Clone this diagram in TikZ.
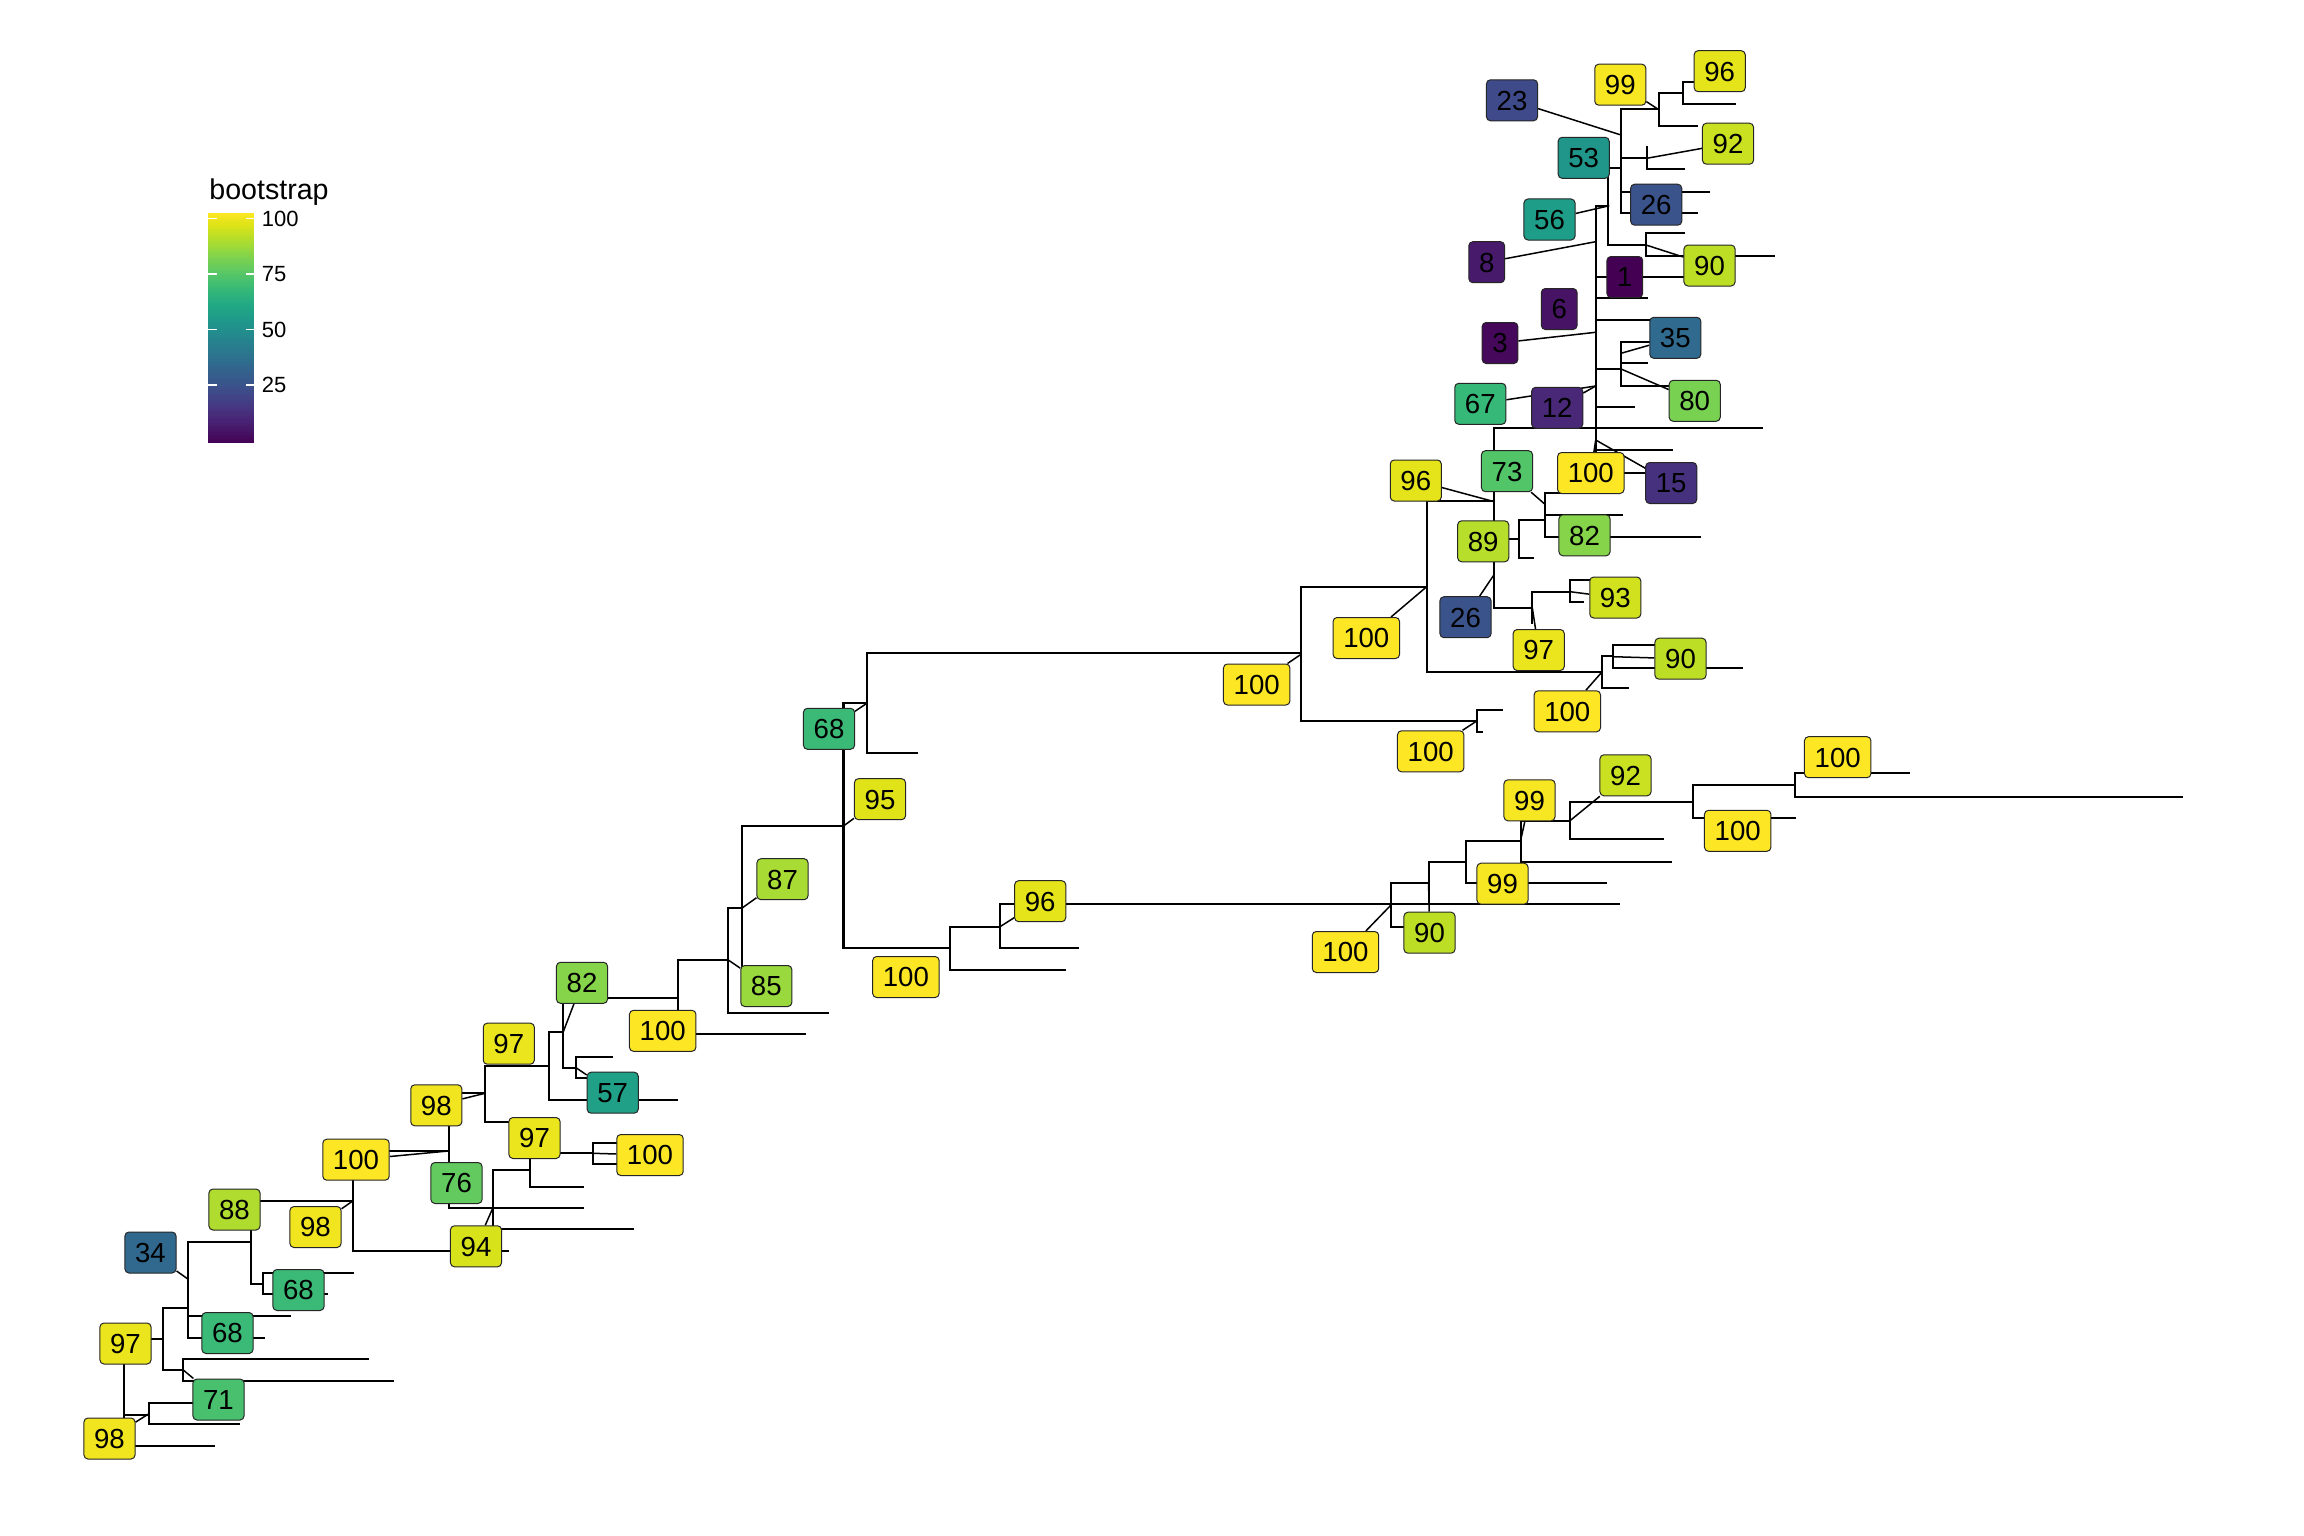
\documentclass[tikz,border=0pt]{standalone}
\usepackage{fontspec}
\setmainfont{Liberation Sans}
\pgfdeclarelayer{bg}
\pgfsetlayers{bg,main}
\definecolor{vir0}{HTML}{440154}
\definecolor{vir1}{HTML}{471365}
\definecolor{vir2}{HTML}{482475}
\definecolor{vir3}{HTML}{463480}
\definecolor{vir4}{HTML}{414487}
\definecolor{vir5}{HTML}{3B528B}
\definecolor{vir6}{HTML}{355F8D}
\definecolor{vir7}{HTML}{2F6C8E}
\definecolor{vir8}{HTML}{2A788E}
\definecolor{vir9}{HTML}{25848E}
\definecolor{vir10}{HTML}{21918C}
\definecolor{vir11}{HTML}{1E9C89}
\definecolor{vir12}{HTML}{22A884}
\definecolor{vir13}{HTML}{2FB47C}
\definecolor{vir14}{HTML}{44BF70}
\definecolor{vir15}{HTML}{5EC962}
\definecolor{vir16}{HTML}{7AD151}
\definecolor{vir17}{HTML}{9BD93C}
\definecolor{vir18}{HTML}{BDDF26}
\definecolor{vir19}{HTML}{DFE318}
\definecolor{vir20}{HTML}{FDE725}
\newcommand{\setlabcol}[1]{%
  \pgfmathsetmacro{\bsS}{(#1-1)/99*20}%
  \pgfmathtruncatemacro{\bsI}{min(floor(\bsS),19)}%
  \pgfmathtruncatemacro{\bsJ}{\bsI+1}%
  \pgfmathtruncatemacro{\bsP}{round((\bsJ-\bsS)*100)}%
  \colorlet{labfill}{vir\bsI!\bsP!vir\bsJ}}
\tikzset{
  tree/.style={line width=1.1pt, line cap=rect, line join=miter},
  leader/.style={line width=0.75pt},
  blabel/.style={draw=black!85, line width=0.5pt, rounded corners=2pt,
    inner xsep=5.1pt, inner ysep=5.3pt, text height=9.9pt, text depth=0pt,
    font=\fontsize{13.8}{16}\selectfont, text=black},
  ticklab/.style={anchor=west, inner sep=0pt, text height=7.9pt, text depth=0pt,
    font=\fontsize{11}{13}\selectfont}
}
\newcommand{\blab}[4]{\setlabcol{#4}\node[blabel,fill=labfill] (#1) at (#2,#3) {#4};}
\begin{document}
\begin{tikzpicture}[x=0.5pt,y=-0.5pt]
\useasboundingbox (0,0) rectangle (2304,1536);
% ---------------- bootstrap labels ----------------
\blab{L97a}{125.5}{1343.5}{97}
\blab{L98a}{109.5}{1438.5}{98}
\blab{L34}{150.5}{1252.5}{34}
\blab{L88}{234.5}{1209.5}{88}
\blab{L98b}{315.5}{1227}{98}
\blab{L68a}{298.5}{1290}{68}
\blab{L68b}{227.5}{1333}{68}
\blab{L71}{218.5}{1399.5}{71}
\blab{L100a}{356}{1159.7}{100}
\blab{L98c}{436.3}{1105.3}{98}
\blab{L76}{456.5}{1183}{76}
\blab{L97b}{508.8}{1043.7}{97}
\blab{L97c}{534.5}{1138}{97}
\blab{L94}{476}{1246.3}{94}
\blab{L82a}{582}{982.8}{82}
\blab{L57}{612.7}{1092.7}{57}
\blab{L100b}{650}{1155}{100}
\blab{L100c}{662.7}{1030.8}{100}
\blab{L87}{782.5}{879.2}{87}
\blab{L85}{766.3}{986}{85}
\blab{L68c}{829}{728.8}{68}
\blab{L95}{880}{799.2}{95}
\blab{L100i}{905.9}{977}{100}
\blab{L96a}{1040.2}{901.2}{96}
\blab{L100h}{1256.7}{684.5}{100}
\blab{L100e}{1366.3}{638}{100}
\blab{L96b}{1415.8}{480.5}{96}
\blab{L73}{1507}{471.2}{73}
\blab{L100d}{1590.8}{473}{100}
\blab{L15}{1671.2}{483}{15}
\blab{L89}{1483.2}{541.3}{89}
\blab{L82b}{1584.5}{535.3}{82}
\blab{L26b}{1465.5}{617.2}{26}
\blab{L93}{1615.3}{597.5}{93}
\blab{L97d}{1538.7}{650}{97}
\blab{L90b}{1680.5}{658.7}{90}
\blab{L100f}{1567.3}{711.3}{100}
\blab{L100g}{1430.7}{751.3}{100}
\blab{L92b}{1625.5}{775.3}{92}
\blab{L99a}{1529.5}{800.3}{99}
\blab{L99b}{1502.5}{883.7}{99}
\blab{L90c}{1429.5}{932.7}{90}
\blab{L100j}{1345.5}{952}{100}
\blab{L100k}{1737.7}{830.8}{100}
\blab{L100l}{1837.7}{757.2}{100}
\blab{L23}{1512}{100.3}{23}
\blab{L99c}{1620.3}{84.7}{99}
\blab{L96c}{1719.7}{71.2}{96}
\blab{L92a}{1728}{143.7}{92}
\blab{L53}{1583.7}{157.8}{53}
\blab{L26a}{1656.2}{204.7}{26}
\blab{L56}{1549.5}{219.5}{56}
\blab{L8}{1486.7}{262.2}{8}
\blab{L90a}{1709.5}{265.5}{90}
\blab{L1}{1624.8}{277}{1}
\blab{L6}{1559.2}{309}{6}
\blab{L3}{1500}{343}{3}
\blab{L35}{1675.3}{337.8}{35}
\blab{L67}{1480.3}{403.8}{67}
\blab{L12}{1557.2}{407.8}{12}
\blab{L80}{1694.7}{400.8}{80}
% ---------------- legend ----------------
\foreach \k in {0,...,99}{%
  \pgfmathsetmacro{\bsV}{1+99*(\k+0.5)/100}%
  \setlabcol{\bsV}%
  \fill[labfill] (208.3,{443.3-(\k+1)*2.3-0.4}) rectangle (254.3,{443.3-\k*2.3});
}
\foreach \v/\yy in {100/218.3,75/274,50/329.3,25/385}{%
  \draw[white,line width=0.6pt] (208.3,\yy)--(216.5,\yy) (246.1,\yy)--(254.3,\yy);
  \node[ticklab] at (261.5,\yy) {\v};
}
\node[anchor=base west, inner sep=0pt, font=\fontsize{14.3}{17}\selectfont] (legtitle) at (209,199) {bootstrap};
% ---------------- tree and leaders (behind labels) ----------------
\begin{pgfonlayer}{bg}
\fill[white] (0,0) rectangle (2304,1536);
\draw[tree]
 (162.7,1339.3)--(124.3,1339.3)--(124.3,1445.7)--(214,1445.7)
 (124.3,1415)--(149.3,1415)
 (187.7,1308.3)--(162.7,1308.3)--(162.7,1370)--(183.3,1370)
 (251,1241.7)--(187.7,1241.7)--(187.7,1337.7)--(264,1337.7)
 (187.7,1315.7)--(290,1315.7)
 (352.7,1201)--(251,1201)--(251,1284.3)--(262.7,1284.3)
 (352.7,1272.7)--(262.7,1272.7)--(262.7,1294.3)--(326.7,1294.3)
 (368.3,1359.3)--(183.3,1359.3)--(183.3,1380.7)--(393.3,1380.7)
 (205,1402.7)--(149.3,1402.7)--(149.3,1424.3)--(239,1424.3)
 (449,1151)--(352.7,1151)--(352.7,1251)--(508.3,1251)
 (485,1093.3)--(449,1093.3)--(449,1208.3)--(582.7,1208.3)
 (549,1066)--(485,1066)--(485,1121.7)--(530,1121.7)
 (563.3,1031.7)--(549,1031.7)--(549,1100)--(677.3,1100)
 (678.3,997.7)--(563.3,997.7)--(563.3,1067.7)--(576,1067.7)
 (611.7,1056.7)--(576,1056.7)--(576,1078.3)--(600,1078.3)
 (530,1170)--(492.7,1170)--(492.7,1251)
 (492.7,1229.3)--(632.7,1229.3)
 (593.3,1153.3)--(530,1153.3)--(530,1186.7)--(582.7,1186.7)
 (625,1142.7)--(593.3,1142.7)--(593.3,1164)--(625,1164)
 (728.3,960)--(678.3,960)--(678.3,1034.3)--(805,1034.3)
 (741.7,908.3)--(728.3,908.3)--(728.3,1013.3)--(828.3,1013.3)
 (843.5,826)--(741.7,826)--(741.7,990)--(770,990)
 (866.8,703.3)--(843.5,703.3)--(843.5,948.3)--(950,948.3)
 (1301,653.3)--(866.8,653.3)--(866.8,753.3)--(917.1,753.3)
 (1000,926.7)--(950,926.7)--(950,970)--(1065,970)
 (1619,904.3)--(1000,904.3)--(1000,948.3)--(1077.9,948.3)
 (1426.7,586.7)--(1301,586.7)--(1301,721)--(1476.7,721)
 (1501.7,710)--(1476.7,710)--(1476.7,731.7)--(1482,731.7)
 (1494.3,501)--(1426.7,501)--(1426.7,672.3)--(1601.7,672.3)
 (1612.7,655.7)--(1601.7,655.7)--(1601.7,688.3)--(1627.7,688.3)
 (1660,645)--(1612.7,645)--(1612.7,667.7)--(1741.7,667.7)
 (1761.7,428.3)--(1494.3,428.3)--(1494.3,607.7)--(1532.3,607.7)
 (1494.3,539.3)--(1519.3,539.3)
 (1570,591.7)--(1532.3,591.7)--(1532.3,623.3)
 (1595,580)--(1570,580)--(1570,602.3)--(1583.3,602.3)
 (1545,520)--(1519.3,520)--(1519.3,558.3)--(1533.3,558.3)
 (1596.7,492.7)--(1545,492.7)--(1545,537.3)--(1700,537.3)
 (1545,515)--(1621.7,515)
 (1607.7,205.7)--(1595.7,205.7)--(1595.7,472.7)--(1660,472.7)
 (1595.7,277.3)--(1684.3,277.3)
 (1595.7,298.3)--(1646.7,298.3)
 (1595.7,320)--(1660,320)
 (1595.7,369)--(1621,369)
 (1595.7,407.3)--(1634.3,407.3)
 (1595.7,450)--(1672.3,450)
 (1621,167.7)--(1607.7,167.7)--(1607.7,245)--(1646,245)
 (1659.3,109.3)--(1621,109.3)--(1621,212.7)--(1696.7,212.7)
 (1621,158.3)--(1646.7,158.3)
 (1621,191.7)--(1709.3,191.7)
 (1683.3,93.3)--(1659.3,93.3)--(1659.3,126)--(1696.7,126)
 (1700,82.3)--(1683.3,82.3)--(1683.3,104.3)--(1735,104.3)
 (1646.7,147.3)--(1646.7,169.3)--(1684.3,169.3)
 (1684.3,233.3)--(1646,233.3)--(1646,256)--(1774,256)
 (1650,341.7)--(1621,341.7)--(1621,386)--(1669.3,386)
 (1621,363.3)--(1646.7,363.3)
 (1428.6,883.3)--(1391,883.3)--(1391,926.7)--(1410,926.7)
 (1466,862.3)--(1428.6,862.3)--(1428.6,904.3)
 (1520.7,841)--(1466,841)--(1466,883.3)--(1606,883.3)
 (1569.6,821)--(1520.7,821)--(1520.7,861.7)--(1670.4,861.7)
 (1692.9,801.7)--(1569.6,801.7)--(1569.6,839.3)--(1663,839.3)
 (1794.6,785)--(1692.9,785)--(1692.9,818.3)--(1794.6,818.3)
 (1909,773.3)--(1794.6,773.3)--(1794.6,797.3)--(2182.3,797.3);
% leaders from tree nodes to their labels
\draw[leader] (149.3,1413.5) -- (L98a);
\draw[leader] (188.3,1279.3) -- (L34);
\draw[leader] (183.3,1370) -- (L71);
\draw[leader] (352.7,1201) -- (L98b);
\draw[leader] (448.3,1151) -- (L100a);
\draw[leader] (485,1093.3) -- (L98c);
\draw[leader] (492.7,1208.3) -- (L94);
\draw[leader] (563.3,1031.7) -- (L82a);
\draw[leader] (576,1067.7) -- (L57);
\draw[leader] (593.3,1153.3) -- (L100b);
\draw[leader] (741.7,908.3) -- (L87);
\draw[leader] (728.3,960) -- (L85);
\draw[leader] (866.8,703.3) -- (L68c);
\draw[leader] (843.5,826) -- (L95);
\draw[leader] (1000,926.7) -- (L96a);
\draw[leader] (1301,654.3) -- (L100h);
\draw[leader] (1426.7,586.7) -- (L100e);
\draw[leader] (1494.3,501.7) -- (L96b);
\draw[leader] (1476.7,721) -- (L100g);
\draw[leader] (1601.7,672.3) -- (L100f);
\draw[leader] (1612.7,656.7) -- (L90b);
\draw[leader] (1494.3,574.3) -- (L26b);
\draw[leader] (1532.3,607.7) -- (L97d);
\draw[leader] (1570,591.7) -- (L93);
\draw[leader] (1545,504.3) -- (L73);
\draw[leader] (1595.7,440) -- (L100d);
\draw[leader] (1595.7,440) -- (L15);
\draw[leader] (1595.7,386) -- (L12);
\draw[leader] (1595.7,386) -- (L67);
\draw[leader] (1621,369) -- (L80);
\draw[leader] (1621,353.3) -- (L35);
\draw[leader] (1595.7,332.3) -- (L3);
\draw[leader] (1595.7,241.7) -- (L8);
\draw[leader] (1646,245) -- (L90a);
\draw[leader] (1609.3,205.7) -- (L56);
\draw[leader] (1646.7,158.3) -- (L92a);
\draw[leader] (1621,135) -- (L23);
\draw[leader] (1659.3,110) -- (L99c);
\draw[leader] (1569.6,821) -- (L92b);
\draw[leader] (1520.7,840) -- (L99a);
\draw[leader] (1428.6,883.3) -- (L90c);
\draw[leader] (1391,905) -- (L100j);
\end{pgfonlayer}
\end{tikzpicture}
\end{document}
